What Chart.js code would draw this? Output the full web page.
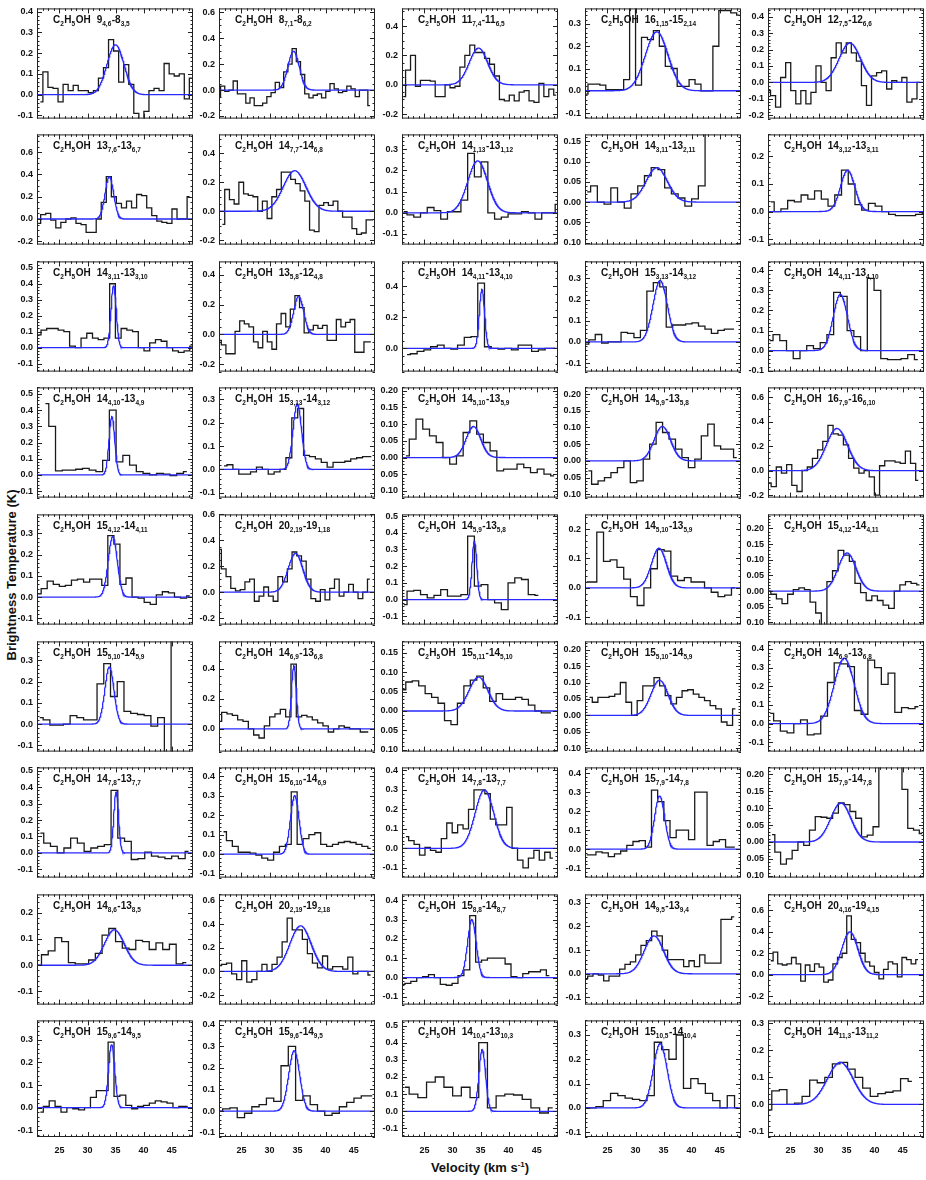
<!DOCTYPE html>
<html><head><meta charset="utf-8">
<script src="https://cdn.jsdelivr.net/npm/chart.js@4.4.1/dist/chart.umd.min.js"></script>
<style>
html,body{margin:0;padding:0;background:#fff;}
#wrap{position:relative;width:926px;height:1180px;overflow:hidden;background:#fff;}
#wrap canvas{position:absolute;}
.ttl{position:absolute;font-family:"Liberation Sans",Arial,Helvetica,sans-serif;font-weight:bold;font-size:13px;color:#111;white-space:nowrap;}
#xt{left:480px;top:1160px;transform:translateX(-50%);}
#yt{left:11px;top:575px;transform:translate(-50%,-50%) rotate(-90deg);}
sup{font-size:8px;}
</style></head><body>
<div id="wrap">
<div class="ttl" id="xt">Velocity (km s<sup>-1</sup>)</div>
<div class="ttl" id="yt">Brightness Temperature (K)</div>
</div>
<script>
// ---------------- data ----------------
const molecule = "C_{2}H_{5}OH";
const transitions = [
 "9_{4,6}-8_{3,5}","8_{7,1}-8_{6,2}","11_{7,4}-11_{6,5}","16_{1,15}-15_{2,14}","12_{7,5}-12_{6,6}",
 "13_{7,6}-13_{6,7}","14_{7,7}-14_{6,8}","14_{1,13}-13_{1,12}","14_{3,11}-13_{2,11}","14_{3,12}-13_{3,11}",
 "14_{3,11}-13_{3,10}","13_{5,8}-12_{4,8}","14_{4,11}-13_{4,10}","15_{3,13}-14_{3,12}","14_{4,11}-13_{4,10}",
 "14_{4,10}-13_{4,9}","15_{3,13}-14_{3,12}","14_{5,10}-13_{5,9}","14_{5,9}-13_{5,8}","16_{7,9}-16_{6,10}",
 "15_{4,12}-14_{4,11}","20_{2,19}-19_{1,18}","14_{5,9}-13_{5,8}","14_{5,10}-13_{5,9}","15_{4,12}-14_{4,11}",
 "15_{5,10}-14_{5,9}","14_{6,9}-13_{6,8}","15_{5,11}-14_{5,10}","15_{5,10}-14_{5,9}","14_{6,9}-13_{6,8}",
 "14_{7,8}-13_{7,7}","15_{6,10}-14_{6,9}","14_{7,8}-13_{7,7}","15_{7,9}-14_{7,8}","15_{7,9}-14_{7,8}",
 "14_{8,6}-13_{8,5}","20_{2,19}-19_{2,18}","15_{8,8}-14_{8,7}","14_{9,5}-13_{9,4}","20_{4,16}-19_{4,15}",
 "15_{9,6}-14_{9,5}","15_{9,6}-14_{9,5}","14_{10,4}-13_{10,3}","15_{10,5}-14_{10,4}","14_{11,3}-13_{11,2}"
];
// first channel velocity and channel width (km/s)
const chanStart = [21.6,20.9,21.2,21.0,21.0, 21.2,21.6,21.3,21.4,21.5, 21.2,21.0,21.9,21.1,21.3,
                   22.5,21.9,21.7,21.6,21.1, 21.2,21.0,21.3,21.3,21.0, 21.5,21.0,21.1,21.8,21.4,
                   21.6,21.8,21.7,21.3,21.7, 21.2,21.0,21.0,21.0,21.5, 21.6,21.0,21.5,21.0,21.0];
const chanWidth = [0.9,0.75,0.88,1.06,0.9, 0.9,0.84,1.2,1.2,1.2, 1.02,0.82,1.2,1.15,1.2,
                   1.2,1.05,1.2,1.15,0.92, 1.08,0.84,1.2,1.2,1.0, 1.2,0.95,1.15,1.0,1.2,
                   1.2,1.05,0.97,1.1,1.03, 1.2,0.9,1.05,0.95,0.82, 1.05,1.3,1.55,1.3,1.35];
// brightness temperature per channel (K)
const spectra = [
 [-0.035,0.11,0.035,0.03,-0.035,0.05,0.02,0.045,0.02,0.02,0.01,0.02,0.08,0.13,0.265,0.21,0.06,0.145,0.05,-0.09,-0.12,-0.08,0.02,0.03,0.02,0.15,0.10,0.09,0.10,-0.02,0.08],
 [-0.05,0.03,-0.01,0.0,0.07,-0.03,-0.03,-0.1,-0.06,-0.12,-0.12,-0.10,-0.05,-0.02,0.06,0.02,0.14,0.2,0.32,0.22,0.12,-0.03,-0.06,-0.04,-0.03,-0.06,-0.01,0.05,0.01,-0.02,-0.01,0.03,0.01,-0.05,0.0,0.0,-0.12],
 [-0.08,0.1,0.2,-0.01,0.03,0.03,0.025,-0.08,-0.08,0.0,-0.02,-0.01,0.12,0.2,0.27,0.22,0.22,0.18,0.14,0.06,-0.1,-0.11,-0.07,-0.11,-0.05,-0.04,-0.11,-0.12,0.01,-0.08,-0.03,-0.07],
 [-0.015,0.03,0.03,0.025,0.005,0.005,0.005,0.05,1.0,0.025,0.24,0.23,0.27,0.2,0.11,0.10,0.02,0.02,0.05,0.03,0.0,0.0,0.2,0.36,0.36,0.35,0.34],
 [-0.05,-0.08,-0.15,0.03,0.12,-0.05,-0.13,-0.05,-0.13,-0.06,0.10,0.0,-0.05,0.15,0.24,0.18,0.24,0.18,0.13,-0.02,-0.14,0.04,0.06,0.07,-0.04,0.01,0.0,0.03,-0.12,-0.10,0.0],
 [-0.04,0.04,0.05,-0.01,-0.08,-0.03,0.0,0.01,-0.04,-0.05,-0.12,-0.12,0.0,0.15,0.38,0.2,0.14,0.1,0.16,0.1,0.22,0.21,0.1,0.03,-0.02,-0.03,-0.04,0.09,0.0,0.0,0.2],
 [-0.09,0.15,0.08,0.05,0.2,0.12,0.11,0.1,0.0,0.07,-0.05,0.1,0.15,0.27,0.27,0.22,0.19,0.14,0.07,-0.13,-0.14,0.04,0.06,0.04,0.07,0.0,-0.04,-0.04,-0.12,-0.16,-0.15,-0.06,-0.06],
 [0.005,-0.01,-0.02,0.0,0.025,0.01,-0.03,0.005,0.005,0.06,0.28,0.17,0.24,0.0,-0.03,-0.02,-0.005,-0.005,0.005,0.0,-0.03,0.0,0.0,0.04],
 [0.025,0.04,0.0,-0.005,0.035,0.0,-0.015,0.02,0.04,0.065,0.085,0.08,0.035,0.02,0.01,-0.01,0.008,0.04,0.5,0.5,0.5,0.5,0.5],
 [0.035,0.0,0.01,0.04,0.035,0.06,0.045,0.075,0.045,0.02,0.06,0.15,0.1,0.025,0.005,0.03,0.02,0.0,-0.01,-0.015,-0.015,-0.015,-0.01,0.0],
 [0.08,0.11,0.12,0.12,0.11,0.1,0.01,0.0,0.06,0.09,0.06,0.05,0.06,0.4,0.06,0.12,0.11,0.1,0.0,-0.02,0.03,0.05,0.04,0.0,-0.02,-0.03,-0.02,0.01],
 [-0.04,-0.07,-0.13,-0.13,0.02,0.09,0.07,0.05,-0.05,-0.09,0.02,-0.05,-0.1,0.07,0.14,0.05,0.17,0.26,0.18,0.01,0.03,0.06,0.04,0.06,-0.04,-0.04,0.1,0.05,0.08,0.1,-0.12,-0.12,-0.05,-0.05],
 [-0.04,-0.035,-0.02,-0.01,0.01,0.02,0.0,-0.005,0.02,0.07,0.075,0.42,0.01,0.0,-0.005,0.0,-0.01,0.02,0.02,-0.02,-0.01,0.0,0.0],
 [-0.01,0.01,0.035,-0.005,0.0,0.0,0.045,0.04,0.02,0.055,0.24,0.28,0.26,0.07,0.08,0.08,0.085,0.09,0.075,0.06,0.04,0.055,0.06,0.06],
 [0.05,0.08,0.05,0.0,-0.04,0.0,0.025,0.01,0.04,0.08,0.29,0.27,0.1,0.07,0.0,0.36,0.3,-0.04,-0.045,-0.045,-0.04,-0.02,-0.045],
 [0.44,0.3,0.025,0.03,0.03,0.035,0.04,0.03,0.02,0.09,0.4,0.08,0.12,0.06,0.02,0.01,0.0,0.01,0.005,-0.005,0.01,0.02],
 [0.015,0.02,0.0,-0.02,-0.02,-0.01,0.01,0.0,-0.02,-0.01,0.0,0.05,0.22,0.26,0.06,0.055,0.045,0.03,0.01,0.03,0.03,0.035,0.045,0.05,0.055,0.055],
 [0.005,0.055,0.115,0.085,0.065,0.045,0.0,-0.02,0.005,0.075,0.11,0.07,0.045,0.02,-0.04,-0.035,-0.035,-0.02,-0.03,-0.045,-0.035,-0.05,-0.055],
 [-0.03,-0.07,-0.06,-0.05,-0.035,-0.02,0.0,-0.065,-0.06,0.005,0.05,0.115,0.085,0.065,0.035,0.01,-0.02,0.005,0.075,0.11,0.045,0.035,0.035,0.01],
 [-0.1,-0.13,0.03,-0.02,0.05,-0.12,-0.17,0.0,0.03,0.1,0.17,0.24,0.37,0.3,0.29,0.21,0.1,0.02,-0.02,0.0,-0.05,-0.2,0.04,0.08,0.08,0.07,0.06,0.16,0.06,-0.08],
 [0.015,0.04,0.075,0.06,0.05,0.055,0.08,0.085,0.07,0.085,0.085,0.055,0.29,0.25,0.06,0.09,0.0,-0.005,-0.025,-0.035,0.01,0.025,0.02,0.0,-0.005,0.005],
 [0.33,0.18,0.12,0.03,0.01,0.02,0.08,0.1,-0.07,-0.03,0.04,-0.03,-0.07,0.12,0.08,0.18,0.31,0.28,0.24,0.1,-0.05,-0.07,0.02,-0.06,0.03,0.1,-0.03,0.0,0.06,0.0,-0.05,0.0,0.1],
 [-0.03,0.05,0.055,0.03,0.01,0.025,0.06,0.02,0.02,0.03,0.38,0.08,0.09,0.0,-0.02,-0.06,0.1,0.13,0.12,0.03,0.025],
 [0.02,0.02,0.19,0.09,0.095,0.07,0.03,-0.03,-0.06,0.0,0.065,0.13,0.125,0.04,0.025,0.035,0.02,0.02,0.0,-0.015,-0.03,-0.025,0.0],
 [0.0,-0.01,-0.025,-0.04,-0.01,0.005,0.01,0.005,-0.035,-0.07,-0.15,0.03,0.065,0.13,0.115,0.095,0.025,-0.005,-0.03,-0.015,-0.03,-0.045,-0.055,0.0,0.02,0.03,0.025,0.02],
 [0.03,0.02,-0.005,-0.005,0.0,0.04,0.03,0.02,0.02,0.19,0.285,0.13,0.2,0.06,0.05,0.045,0.04,-0.01,0.03,-0.5,1.0,1.0,1.0],
 [0.05,0.11,0.1,0.09,0.06,0.05,0.0,-0.04,-0.06,0.02,0.08,0.1,0.13,0.08,0.43,0.08,0.09,0.08,0.06,0.04,0.02,-0.02,0.0,0.02,0.01,0.0,0.0,-0.02,-0.02],
 [0.055,0.075,0.078,0.065,0.045,0.035,0.02,-0.025,-0.035,0.02,0.065,0.08,0.09,0.06,0.025,0.045,0.03,0.03,0.035,0.03,0.015,0.0,-0.005,-0.005],
 [0.055,0.04,0.055,0.055,0.058,0.065,0.1,0.04,0.0,0.045,0.09,0.09,0.115,0.09,0.06,0.035,0.055,0.075,0.078,0.065,0.055,0.045,0.03,0.02,-0.02,-0.03,0.02],
 [0.055,0.015,-0.04,-0.05,0.0,0.02,-0.06,-0.055,0.04,0.22,0.325,0.32,0.305,0.07,0.05,0.34,0.3,0.21,0.27,0.06,0.085,0.08,0.09],
 [0.12,0.06,0.04,0.0,0.03,0.09,0.06,0.01,0.03,0.04,0.05,0.38,0.09,0.07,-0.04,-0.035,0.005,-0.02,-0.025,-0.035,-0.02,-0.035,0.01],
 [0.115,0.07,0.04,0.01,0.01,0.005,-0.005,-0.02,-0.03,0.01,0.04,0.05,0.32,0.05,0.08,0.1,0.11,0.05,0.04,0.05,0.06,0.065,0.06,0.05,0.04,0.03],
 [0.06,0.04,0.02,-0.035,0.005,-0.01,-0.02,0.05,0.13,0.08,0.12,0.1,0.2,0.3,0.3,0.28,0.15,0.12,0.12,0.21,0.0,-0.06,-0.1,-0.05,-0.01,-0.06,-0.02,-0.05],
 [-0.03,-0.03,-0.015,-0.02,-0.04,-0.025,-0.01,0.02,0.04,0.045,0.01,0.31,0.25,0.15,0.06,0.1,0.1,0.05,0.3,0.3,0.02,0.04,0.05,0.01,0.01],
 [0.022,-0.03,-0.065,-0.05,-0.025,0.0,-0.01,0.035,0.075,0.073,0.07,0.085,0.115,0.11,0.09,0.07,0.015,0.02,0.045,0.5,0.5,0.5,0.5,0.155,0.04,0.035,0.025],
 [0.0,0.04,0.055,0.105,0.09,0.01,0.005,0.005,0.02,0.045,0.115,0.14,0.09,0.065,0.06,0.095,0.09,0.06,0.085,0.06,0.08,0.005,0.01],
 [0.05,0.06,0.07,-0.02,-0.07,0.09,-0.09,-0.07,0.0,0.06,0.0,0.06,0.12,0.25,0.45,0.35,0.35,0.27,0.15,0.07,0.03,0.13,0.02,0.04,0.04,0.02,0.12,-0.02,0.0,0.0,-0.03],
 [-0.035,-0.03,-0.02,0.0,0.005,0.015,0.0,-0.035,-0.04,-0.03,0.01,0.04,0.32,0.08,0.09,0.1,0.1,0.1,0.07,0.005,0.0,0.02,0.03,0.03,0.04,0.01],
 [-0.02,-0.01,0.0,-0.005,-0.03,-0.01,-0.01,0.02,0.04,0.05,0.08,0.12,0.14,0.18,0.16,0.1,0.06,0.06,0.06,0.03,0.055,0.03,0.08,0.045,0.045,0.045,0.23,0.23,0.24],
 [0.13,0.21,0.1,0.09,0.1,0.16,0.1,-0.06,0.09,0.03,0.1,0.07,-0.07,-0.05,0.1,0.16,0.2,0.55,0.33,0.3,0.2,0.12,0.08,0.02,-0.04,0.05,0.12,0.1,-0.02,0.16,0.14,0.1,0.14],
 [-0.02,0.005,0.03,0.005,-0.02,0.0,-0.005,-0.01,0.0,0.045,0.075,0.075,0.29,0.05,0.055,0.01,-0.005,0.005,0.01,0.02,0.03,0.025,0.02,0.0,0.005,0.005],
 [0.0,0.01,0.015,-0.03,-0.01,0.02,0.03,0.06,0.045,0.21,0.3,0.05,0.07,0.03,0.0,-0.02,-0.01,0.02,0.04,0.06,0.07,0.07],
 [0.14,0.1,0.08,0.17,0.2,0.14,0.09,0.14,0.08,0.4,0.02,0.09,0.1,0.095,0.07,0.02,-0.01,0.02],
 [0.0,0.0,0.005,0.03,0.06,0.05,0.04,0.035,0.03,0.05,0.27,0.24,0.2,0.3,0.08,0.12,0.1,0.06,0.03,0.0,0.05,0.0],
 [-0.02,0.05,0.055,0.0,0.005,0.03,0.09,0.08,0.1,0.15,0.155,0.13,0.1,0.06,0.03,0.04,0.045,0.05,0.095,0.085]
];
// Gaussian fit parameters: peak (K), centre (km/s), FWHM (km/s)
const fitPeak   = [0.24,0.30,0.25,0.265,0.24, 0.38,0.28,0.245,0.085,0.15, 0.39,0.255,0.38,0.29,0.28,
                   0.36,0.28,0.093,0.103,0.345, 0.285,0.30,0.35,0.135,0.122, 0.27,0.42,0.088,0.107,0.35,
                   0.37,0.30,0.30,0.28,0.115, 0.135,0.385,0.30,0.16,0.40, 0.28,0.28,0.36,0.265,0.155];
const fitCenter = [35.0,34.3,34.65,33.8,35.6, 33.9,34.5,34.5,33.8,35.2, 34.65,35.2,35.25,34.4,33.9,
                   34.35,34.95,33.75,34.8,33.3, 34.5,34.65,33.9,34.2,35.1, 33.9,34.35,34.65,34.3,34.6,
                   35.1,34.5,35.7,34.3,34.0, 34.8,35.55,33.45,33.3,35.6, 34.3,34.4,35.3,34.4,33.9];
const fitFwhm   = [3.6,2.4,3.9,4.8,4.5, 1.8,4.8,4.2,4.5,3.0, 1.1,2.1,1.1,3.0,3.0,
                   1.2,1.8,3.1,3.5,4.5, 1.9,3.1,1.0,3.2,3.8, 1.9,1.0,4.0,3.6,4.2,
                   1.0,1.8,3.9,2.1,4.3, 4.2,4.5,1.8,4.1,3.4, 1.3,2.3,1.4,2.9,5.5];
// y axis range and major tick step for each panel
const yMin  = [-0.115,-0.22,-0.23,-0.125,-0.22, -0.23,-0.23,-0.15,-0.105,-0.12, -0.15,-0.25,-0.15,-0.14,-0.105,
               -0.14,-0.12,-0.12,-0.11,-0.22, -0.13,-0.25,-0.15,-0.125,-0.107, -0.13,-0.15,-0.105,-0.11,-0.15,
               -0.15,-0.12,-0.15,-0.15,-0.105, -0.15,-0.28,-0.14,-0.13,-0.28, -0.13,-0.12,-0.15,-0.12,-0.12];
const yMax  = [0.415,0.63,0.52,0.37,0.45, 0.76,0.53,0.37,0.167,0.28, 0.54,0.49,0.56,0.38,0.445,
               0.54,0.35,0.21,0.22,0.68, 0.39,0.6,0.51,0.25,0.245, 0.39,0.58,0.18,0.225,0.44,
               0.52,0.445,0.415,0.43,0.22, 0.27,0.65,0.43,0.335,0.75, 0.386,0.42,0.53,0.36,0.31];
const yStep = [0.1,0.2,0.2,0.1,0.1, 0.2,0.2,0.1,0.05,0.1, 0.1,0.2,0.2,0.1,0.1,
               0.1,0.1,0.05,0.05,0.2, 0.1,0.2,0.1,0.1,0.05, 0.1,0.2,0.05,0.05,0.1,
               0.1,0.1,0.1,0.1,0.05, 0.1,0.2,0.1,0.1,0.2, 0.1,0.1,0.1,0.1,0.1];
const velMin = 21.0, velMax = 48.8;
const velTicks = [25,30,35,40,45];

// ---------------- layout ----------------
const FONT = '"Liberation Sans", Arial, Helvetica, sans-serif';
Chart.defaults.font.family = FONT;
Chart.defaults.color = '#111';
const PL0 = 36.7, CPITCH = 182.7, PW = 156;
const PT0 = 1.5, RPITCH = 126.6, PH = 123;
const LM = 36, TM = 3, RM = 4;

function multiples(lo, hi, st) {
  const out = [];
  for (let k = Math.ceil(lo / st - 1e-6); k * st <= hi + 1e-9; k++) out.push(Math.round(k * st * 1000) / 1000);
  return out;
}

function drawLabel(ctx, x, y, text) {
  const re = /_\{([^}]*)\}|([^_]+)/g; let m;
  while ((m = re.exec(text)) !== null) {
    if (m[1] !== undefined) {
      ctx.font = 'bold 6.5px ' + FONT; ctx.fillText(m[1], x, y + 3); x += ctx.measureText(m[1]).width + 0.5;
    } else {
      ctx.font = 'bold 10px ' + FONT; ctx.fillText(m[2], x, y); x += ctx.measureText(m[2]).width;
    }
  }
  return x;
}

const decor = {
  id: 'decor',
  afterDatasetsDraw(chart, args, o) {
    const {ctx, chartArea: a} = chart; const xs = chart.scales.x, ys = chart.scales.y;
    ctx.save();
    ctx.strokeStyle = '#222'; ctx.lineWidth = 1;
    ctx.strokeRect(a.left + 0.5, a.top + 0.5, a.right - a.left - 1, a.bottom - a.top - 1);
    ctx.beginPath();
    for (const v of multiples(velMin, velMax, 1)) {
      const px = Math.round(xs.getPixelForValue(v)) + 0.5; const len = (v % 5 === 0) ? 5 : 2.5;
      ctx.moveTo(px, a.bottom); ctx.lineTo(px, a.bottom - len);
      ctx.moveTo(px, a.top); ctx.lineTo(px, a.top + len);
    }
    const st = o.step, mn = st === 0.2 ? st / 4 : st / 5;
    for (const v of multiples(ys.min, ys.max, mn)) {
      const major = Math.abs(v / st - Math.round(v / st)) < 1e-6;
      const py = Math.round(ys.getPixelForValue(v)) + 0.5; const len = major ? 5 : 2.5;
      ctx.moveTo(a.left, py); ctx.lineTo(a.left + len, py);
      ctx.moveTo(a.right, py); ctx.lineTo(a.right - len, py);
    }
    ctx.stroke();
    ctx.fillStyle = '#111'; ctx.textBaseline = 'alphabetic';
    let x = drawLabel(ctx, a.left + 16, a.top + 15, molecule);
    drawLabel(ctx, x + 6, a.top + 15, o.label);
    ctx.restore();
  }
};

const wrap = document.getElementById('wrap');
for (let p = 0; p < spectra.length; p++) {
  const r = Math.floor(p / 5), c = p % 5;
  const left = Math.round(PL0 + c * CPITCH), top = Math.round(PT0 + r * RPITCH);
  const bottomRow = r === 8; const XH = bottomRow ? 24 : 3;
  const cv = document.createElement('canvas');
  const W = PW + LM + RM, H = PH + TM + XH;
  cv.width = W; cv.height = H; cv.style.width = W + 'px'; cv.style.height = H + 'px';
  cv.style.left = (left - LM) + 'px'; cv.style.top = (top - TM) + 'px';
  wrap.appendChild(cv);

  const obs = spectra[p].map((t, i) => ({x: chanStart[p] + i * chanWidth[p], y: t}));
  const fit = [];
  for (let v = velMin; v <= velMax + 1e-9; v += 0.05) {
    const d = (v - fitCenter[p]) / fitFwhm[p];
    fit.push({x: v, y: fitPeak[p] * Math.exp(-4 * Math.LN2 * d * d)});
  }
  const step = yStep[p];
  new Chart(cv, {
    type: 'line',
    data: { datasets: [
      {data: fit, borderColor: '#2a2aff', borderWidth: 1.3, pointRadius: 0, tension: 0, clip: 0},
      {data: obs, stepped: 'middle', borderColor: '#1a1a1a', borderWidth: 1.3, pointRadius: 0, clip: 0}
    ]},
    options: {
      responsive: false, animation: false, devicePixelRatio: 1,
      events: [],
      layout: {padding: {top: TM, right: RM, left: 0, bottom: 0}},
      plugins: {legend: {display: false}, tooltip: {enabled: false}, decor: {step: step, label: transitions[p]}},
      scales: {
        x: {type: 'linear', min: velMin, max: velMax, grid: {display: false, drawTicks: false}, border: {display: false},
            ticks: {display: bottomRow, autoSkip: false, maxRotation: 0, padding: 8,
                    font: {size: 9, weight: 'bold'}, color: '#111', callback: v => String(v)},
            afterBuildTicks: s => { s.ticks = velTicks.map(v => ({value: v})); },
            afterFit: s => { s.height = XH; }},
        y: {type: 'linear', min: yMin[p], max: yMax[p], grid: {display: false, drawTicks: false}, border: {display: false},
            ticks: {autoSkip: false, padding: 4, font: {size: 9, weight: 'bold'}, color: '#111',
                    callback: v => step < 0.1 ? Math.abs(v).toFixed(2) : (Math.abs(v) < 1e-9 ? '0.0' : v.toFixed(1))},
            afterBuildTicks: s => { s.ticks = multiples(yMin[p], yMax[p], step).map(v => ({value: v})); },
            afterFit: s => { s.width = LM; }}
      }
    },
    plugins: [decor]
  });
}
</script>
</body></html>
